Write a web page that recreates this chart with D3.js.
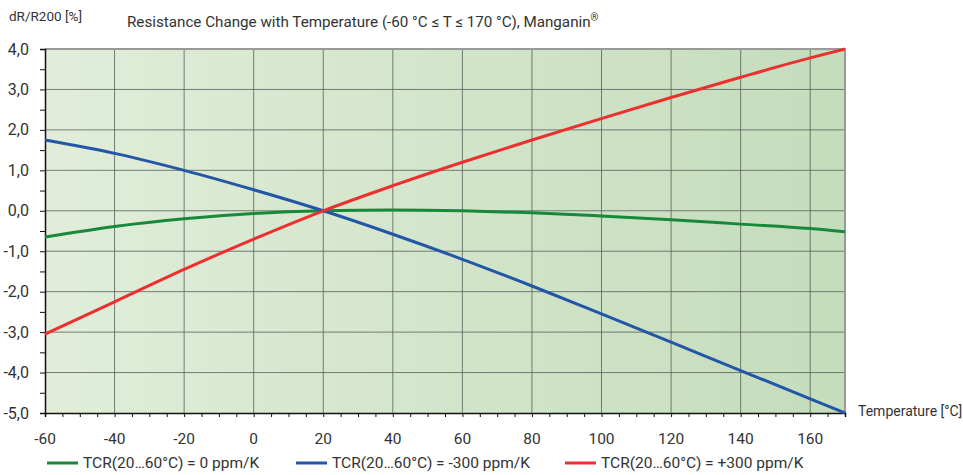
<!DOCTYPE html>
<html>
<head>
<meta charset="utf-8">
<script src="https://cdn.jsdelivr.net/npm/d3@7"></script>
<style>
  body { margin: 0; background: #fff; }
  text { font-family: "Roboto", sans-serif; fill: #333; }
</style>
</head>
<body>
<div id="chart"></div>
<script>
const width = 963;
const height = 475;
const margin = { left: 45, right: 118, top: 49, bottom: 62 };

// data
const temps = [-60, -40, -20, 0, 20, 40, 60, 80, 100, 120, 140, 160, 170];
const tcr0 = [-0.65, -0.39, -0.2, -0.07, 0, 0.02, 0, -0.05, -0.13, -0.22, -0.33, -0.44, -0.52];
const tcrMinus = [1.75, 1.42, 1.0, 0.52, 0, -0.58, -1.2, -1.86, -2.55, -3.25, -3.95, -4.65, -5.0];
const tcrPlus = [-3.05, -2.25, -1.45, -0.7, 0, 0.62, 1.2, 1.75, 2.28, 2.8, 3.3, 3.78, 4.0];

const xTicks = [-60, -40, -20, 0, 20, 40, 60, 80, 100, 120, 140, 160];
const yTicks = [4, 3, 2, 1, 0, -1, -2, -3, -4, -5];

const series = [
  { name: "TCR(20\u202660\u00b0C) = 0 ppm/K", values: tcr0, color: "#17893b" },
  { name: "TCR(20\u202660\u00b0C) = -300 ppm/K", values: tcrMinus, color: "#2456a8" },
  { name: "TCR(20\u202660\u00b0C) = +300 ppm/K", values: tcrPlus, color: "#ee2f2f" }
];
const legendX = [47, 296, 565];

const svg = d3.select("#chart").append("svg")
  .attr("width", width)
  .attr("height", height);

const x = d3.scaleLinear().domain([-60, 170]).range([margin.left, width - margin.right]);
const y = d3.scaleLinear().domain([-5, 4]).range([height - margin.bottom, margin.top]);

// background gradient
const grad = svg.append("defs").append("linearGradient").attr("id", "bg");
grad.append("stop").attr("offset", "0%").attr("stop-color", "#e1edd9");
grad.append("stop").attr("offset", "100%").attr("stop-color", "#c4ddbb");

svg.append("rect")
  .attr("x", x(-60)).attr("y", y(4))
  .attr("width", x(170) - x(-60)).attr("height", y(-5) - y(4))
  .attr("fill", "url(#bg)");

// grid
svg.append("g").selectAll("line")
  .data(xTicks.slice(1))
  .enter().append("line")
  .attr("x1", d => x(d)).attr("x2", d => x(d))
  .attr("y1", y(4)).attr("y2", y(-5))
  .attr("stroke", "#56605a").attr("stroke-width", 0.8);

svg.append("g").selectAll("line")
  .data(yTicks.slice(1, -1))
  .enter().append("line")
  .attr("x1", x(-60)).attr("x2", x(170))
  .attr("y1", d => y(d)).attr("y2", d => y(d))
  .attr("stroke", "#56605a").attr("stroke-width", 0.8);

// top / right frame
svg.append("path")
  .attr("d", `M${x(-60)},${y(4)}H${x(170)}V${y(-5)}`)
  .attr("fill", "none").attr("stroke", "#999").attr("stroke-width", 2);

// axes
const minorX = d3.range(-60, 171, 5);
const minorY = d3.range(-5, 4.01, 0.5);

const xAxis = svg.append("g")
  .attr("transform", `translate(0,${y(-5)})`)
  .call(d3.axisBottom(x).tickValues(minorX).tickSize(4).tickFormat(""));
xAxis.select(".domain").attr("stroke", "#111").attr("stroke-width", 1.5);
xAxis.selectAll(".tick line").attr("stroke", "#111");

svg.append("g").selectAll("text")
  .data(xTicks)
  .enter().append("text")
  .attr("x", d => x(d)).attr("y", 444)
  .attr("text-anchor", "middle")
  .attr("font-size", "15.5px")
  .text(d => d);

const yAxis = svg.append("g")
  .attr("transform", `translate(${x(-60)},0)`)
  .call(d3.axisLeft(y).tickValues(minorY).tickSize(5).tickFormat(""));
yAxis.select(".domain").attr("stroke", "#111").attr("stroke-width", 1.5);
yAxis.selectAll(".tick line").attr("stroke", "#111");

svg.append("g").selectAll("text")
  .data(yTicks)
  .enter().append("text")
  .attr("x", 29).attr("y", d => y(d))
  .attr("dy", "0.35em")
  .attr("text-anchor", "end")
  .attr("font-size", "16px")
  .text(d => d.toFixed(1).replace(".", ","));

// curves
const line = d3.line()
  .x((d, i) => x(temps[i]))
  .y(d => y(d))
  .curve(d3.curveMonotoneX);

svg.append("g").selectAll("path")
  .data(series)
  .enter().append("path")
  .attr("d", d => line(d.values))
  .attr("fill", "none")
  .attr("stroke", d => d.color)
  .attr("stroke-width", 3);

// titles
svg.append("text").attr("x", 9).attr("y", 21).attr("font-size", "13.5px").text("dR/R200 [%]");
const title = svg.append("text").attr("x", 127).attr("y", 27).attr("font-size", "15.2px")
  .text("Resistance Change with Temperature (-60 \u00b0C \u2264 T \u2264 170 \u00b0C), Manganin");
title.append("tspan").attr("font-size", "10px").attr("dy", "-6").text("\u00ae");
svg.append("text").attr("x", 858).attr("y", 416).attr("font-size", "14px").text("Temperature [\u00b0C]");

// legend
const legend = svg.append("g").selectAll("g")
  .data(series)
  .enter().append("g")
  .attr("transform", (d, i) => `translate(${legendX[i]},463)`);
legend.append("line")
  .attr("x1", 0).attr("x2", 31)
  .attr("stroke", d => d.color).attr("stroke-width", 3);
legend.append("text")
  .attr("x", 36).attr("dy", "0.35em")
  .attr("font-size", "15.5px")
  .text(d => d.name);
</script>
</body>
</html>
